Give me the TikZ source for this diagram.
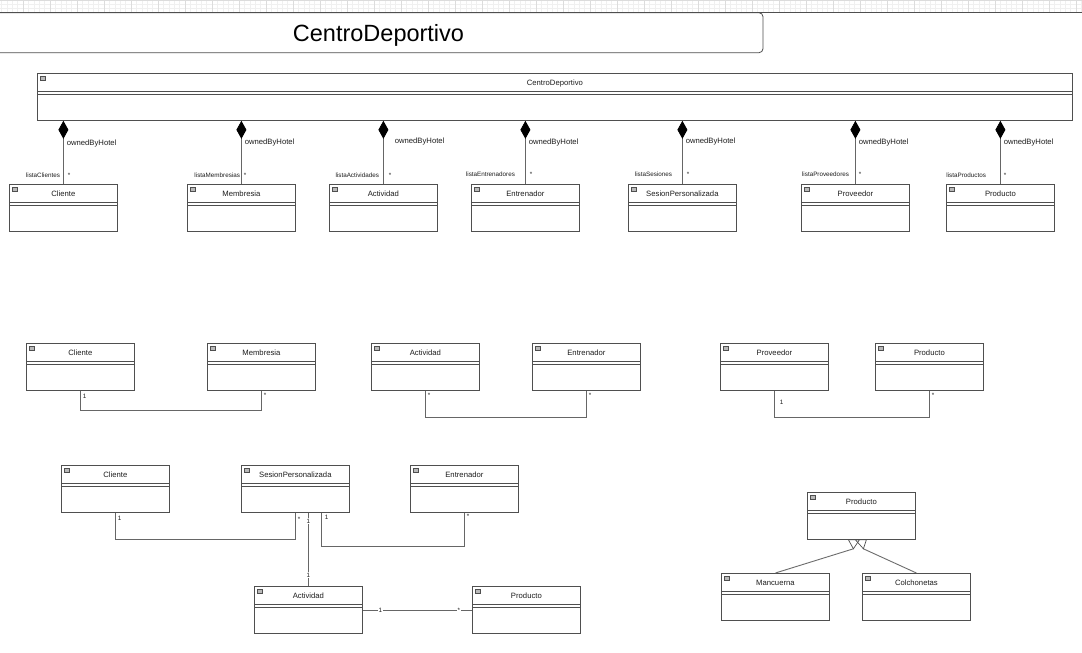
\documentclass[tikz,border=0pt]{standalone}
\usepackage{fontspec}
\setmainfont{Liberation Sans}
\usetikzlibrary{arrows.meta,calc}

\definecolor{boxgray}{HTML}{4F4F4F}
\definecolor{linegray}{HTML}{666666}
\definecolor{gridminor}{HTML}{F0F0F0}
\definecolor{gridmajor}{HTML}{DCDCDC}
\definecolor{txtgray}{HTML}{1E1E1E}

\newcommand{\clsfont}{\fontsize{7.7}{9}\selectfont}
\newcommand{\rolfont}{\fontsize{6.3}{7}\selectfont}

\tikzset{
  umlclass/.style={draw=boxgray, line width=0.8pt, fill=white, anchor=north west,
    inner sep=0pt, minimum width=108pt, minimum height=47pt,
    label={[clsname]north:#1},
    path picture={
      \draw[boxgray, line width=0.8pt]
        ([yshift=-17.5pt]path picture bounding box.north west) -- ([yshift=-17.5pt]path picture bounding box.north east)
        ([yshift=-20.5pt]path picture bounding box.north west) -- ([yshift=-20.5pt]path picture bounding box.north east);
      \draw[boxgray, fill=gray!55, line width=0.4pt]
        ([xshift=2.5pt,yshift=-2.5pt]path picture bounding box.north west) rectangle ++(5,4.5);
    }},
  clsname/.style={anchor=base, yshift=-12pt, inner sep=0pt, font=\clsfont, text=txtgray},
  titlebox/.style={draw=boxgray, line width=0.8pt, rounded corners=4pt, inner sep=0pt,
    minimum width=769pt, minimum height=40pt, text height=17pt, text depth=0pt,
    font=\fontsize{23.5}{28}\selectfont, text=black},
  assoc/.style={draw=linegray, line width=0.8pt},
  comp/.style={assoc, {Diamond[length=18pt,width=10pt,color=black,fill=black]}-},
  genline/.style={draw=gray!85!black, line width=0.9pt},
  own/.style={anchor=west, inner sep=0pt, xshift=3pt, font=\clsfont, text=txtgray},
  role/.style={anchor=east, inner sep=0pt, xshift=-3pt, font=\rolfont, text=txtgray},
  mult/.style={inner sep=0pt, font=\rolfont, text=txtgray},
  onl/.style={mult, fill=white, inner sep=0.6pt}
}

\begin{document}
\begin{tikzpicture}[x=1pt, y=-1pt]
  \fill[white] (0,0) rectangle (1082,653);
  \useasboundingbox (0,0) rectangle (1082,653);

  \draw[gridminor, line width=0.3pt, y=1pt, xshift=-4pt] (0,-12.7) grid[xstep=5.4, ystep=4.2] (1090,0);
  \draw[gridmajor, line width=0.4pt, y=1pt, xshift=-4pt] (0,-12.7) grid[xstep=27, ystep=40] (1090,0);
  \draw[boxgray, line width=0.8pt] (0,12.7) -- (1082,12.7);

  \node[titlebox] (titulo) at (378.5,32.7) {CentroDeportivo};

  \node[umlclass=CentroDeportivo, minimum width=1035pt] (cd) at (37,73) {};

  \node[umlclass=Cliente] (cli1) at (9,184) {};
  \node[umlclass=Membresia] (mem1) at (187,184) {};
  \node[umlclass=Actividad] (act1) at (329,184) {};
  \node[umlclass=Entrenador] (ent1) at (471,184) {};
  \node[umlclass=SesionPersonalizada] (ses1) at (628,184) {};
  \node[umlclass=Proveedor] (prov1) at (801,184) {};
  \node[umlclass=Producto] (prod1) at (946,184) {};

  \draw[comp] (cli1.north |- cd.south) -- (cli1.north) node[own, pos=0.36]{ownedByHotel}
    node[role, pos=0.86]{listaClientes} node[mult, anchor=west, xshift=4pt, pos=0.86]{*};
  \draw[comp] (mem1.north |- cd.south) -- (mem1.north) node[own, pos=0.34]{ownedByHotel}
    node[role, xshift=2pt, pos=0.86]{listaMembresias} node[mult, anchor=west, xshift=2pt, pos=0.86]{*};
  \draw[comp] (act1.north |- cd.south) -- (act1.north) node[own, xshift=8pt, pos=0.33]{ownedByHotel}
    node[role, xshift=-1pt, pos=0.86]{listaActividades} node[mult, anchor=west, xshift=5pt, pos=0.86]{*};
  \draw[comp] (ent1.north |- cd.south) -- (ent1.north) node[own, pos=0.34]{ownedByHotel}
    node[role, xshift=-7pt, pos=0.84]{listaEntrenadores} node[mult, anchor=west, xshift=4pt, pos=0.85]{*};
  \draw[comp] (ses1.north |- cd.south) -- (ses1.north) node[own, pos=0.33]{ownedByHotel}
    node[role, xshift=-7pt, pos=0.84]{listaSesiones} node[mult, anchor=west, xshift=4pt, pos=0.85]{*};
  \draw[comp] (prov1.north |- cd.south) -- (prov1.north) node[own, pos=0.34]{ownedByHotel}
    node[role, xshift=-3pt, pos=0.84]{listaProveedores} node[mult, anchor=west, xshift=3pt, pos=0.85]{*};
  \draw[comp] (prod1.north |- cd.south) -- (prod1.north) node[own, pos=0.34]{ownedByHotel}
    node[role, xshift=-11pt, pos=0.86]{listaProductos} node[mult, anchor=west, xshift=3pt, pos=0.86]{*};

  \node[umlclass=Cliente] (cli2) at (26,343) {};
  \node[umlclass=Membresia] (mem2) at (207,343) {};
  \node[umlclass=Actividad] (act2) at (371,343) {};
  \node[umlclass=Entrenador] (ent2) at (532,343) {};
  \node[umlclass=Proveedor] (prov2) at (720,343) {};
  \node[umlclass=Producto] (prod2) at (875,343) {};

  \draw[assoc] (cli2.south) node[mult, anchor=north west, xshift=2pt, yshift=-3pt]{1}
    -- ++(0,20) -| (mem2.south) node[mult, anchor=north west, xshift=2pt, yshift=-2pt]{*};
  \draw[assoc] (act2.south) node[mult, anchor=north west, xshift=2pt, yshift=-2pt]{*}
    -- ++(0,27) -| (ent2.south) node[mult, anchor=north west, xshift=2pt, yshift=-2pt]{*};
  \draw[assoc] (prov2.south) node[mult, anchor=north west, xshift=5pt, yshift=-9pt]{1}
    -- ++(0,27) -| (prod2.south) node[mult, anchor=north west, xshift=2pt, yshift=-2pt]{*};

  \node[umlclass=Cliente] (cli3) at (61,465) {};
  \node[umlclass=SesionPersonalizada] (ses3) at (241,465) {};
  \node[umlclass=Entrenador] (ent3) at (410,465) {};
  \node[umlclass=Actividad] (act3) at (254,586) {};
  \node[umlclass=Producto] (prod3) at (472,586) {};

  \draw[assoc] (cli3.south) node[mult, anchor=north west, xshift=2pt, yshift=-3pt]{1}
    -- ++(0,27) -| (ses3.south) node[mult, anchor=north west, xshift=2pt, yshift=-4pt]{*};
  \draw[assoc] (ses3.south -| act3.north) -- (act3.north) node[onl, pos=0.11]{1} node[onl, pos=0.85]{1};
  \draw[assoc] ([xshift=26pt]ses3.south) node[mult, anchor=north west, xshift=3pt, yshift=-2pt]{1}
    -- ++(0,34) -| (ent3.south) node[mult, anchor=north west, xshift=2pt, yshift=-1pt]{*};
  \draw[assoc] (act3.east) -- (prod3.west) node[onl, pos=0.16]{1} node[onl, pos=0.88]{*};

  \node[umlclass=Producto] (gen) at (807,492) {};
  \node[umlclass=Mancuerna] (manc) at (721,573) {};
  \node[umlclass=Colchonetas] (colch) at (862,573) {};

  \coordinate (gtipA) at ($(gen.south)+(-8,9)$);
  \coordinate (gtipB) at ($(gen.south)+(2,9)$);
  \draw[genline] (manc.north) -- (gtipA);
  \draw[genline] (colch.north) -- (gtipB);
  \draw[boxgray, line width=0.7pt] ($(gen.south)+(-13,0)$) -- ($(gen.south)+(-2,0)$) -- (gtipA) -- cycle;
  \draw[boxgray, line width=0.7pt] ($(gen.south)+(-6,0)$) -- ($(gen.south)+(5,0)$) -- (gtipB) -- cycle;
\end{tikzpicture}
\end{document}
